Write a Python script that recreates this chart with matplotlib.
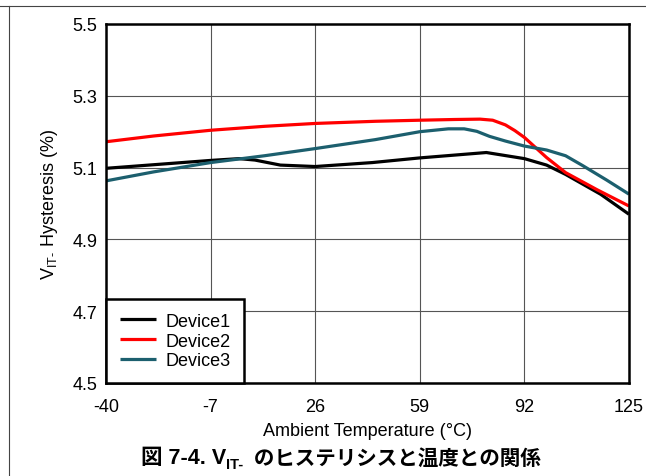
import matplotlib
matplotlib.use("Agg")
import matplotlib.pyplot as plt
from matplotlib.lines import Line2D

plt.rcParams['font.family'] = ['Liberation Sans', 'Noto Sans CJK JP', 'DejaVu Sans']
plt.rcParams['mathtext.fontset'] = 'custom'
plt.rcParams['mathtext.rm'] = 'Liberation Sans'
plt.rcParams['axes.unicode_minus'] = False

# data
temp1 = [-40, -25, -7, 2, 7, 15, 26, 44, 59, 80, 92, 99, 105, 116, 125]
dev1 = [5.098, 5.108, 5.120, 5.125, 5.121, 5.107, 5.103, 5.114, 5.127, 5.142, 5.125, 5.107, 5.081, 5.026, 4.970]

temp2 = [-40, -25, -7, 10, 26, 45, 59, 70, 78, 82, 86, 89, 92, 99, 105, 115, 125]
dev2 = [5.172, 5.188, 5.204, 5.215, 5.223, 5.229, 5.232, 5.234, 5.235, 5.232, 5.219, 5.203, 5.184, 5.128, 5.086, 5.038, 4.993]

temp3 = [-40, -25, -7, 10, 26, 45, 59, 68, 73, 77, 81, 86, 92, 99, 105, 110.5, 118, 125]
dev3 = [5.063, 5.088, 5.114, 5.133, 5.153, 5.178, 5.200, 5.208, 5.208, 5.201, 5.187, 5.174, 5.160, 5.149, 5.133, 5.105, 5.065, 5.026]

xticks = [-40, -7, 26, 59, 92, 125]
yticks = [4.5, 4.7, 4.9, 5.1, 5.3, 5.5]
names = ['Device1', 'Device2', 'Device3']
colors = ['#000000', '#ff0000', '#1c5f6e']

fig = plt.figure(figsize=(6.46, 4.77), dpi=100)

# frame lines of the surrounding table
fig.add_artist(Line2D([0, 1], [1 - 6.5 / 477, 1 - 6.5 / 477], color='#444444', lw=0.8))
fig.add_artist(Line2D([8.5 / 646, 8.5 / 646], [0, 1 - 6.5 / 477], color='#444444', lw=0.8))

ax = fig.add_axes([106 / 646, 1 - 384 / 477, 523 / 646, 359 / 477])

for t, d, c, n in zip([temp1, temp2, temp3], [dev1, dev2, dev3], colors, names):
    ax.plot(t, d, color=c, lw=2.3, label=n, solid_capstyle='butt', solid_joinstyle='round')

ax.set_xlim(-40, 125)
ax.set_ylim(4.5, 5.5)
ax.set_xticks(xticks)
ax.set_xticklabels([str(v) for v in xticks])
ax.set_yticks(yticks)
ax.set_yticklabels([f"{v:.1f}" for v in yticks])
ax.grid(True, color='#555555', lw=0.8)
ax.set_axisbelow(True)
ax.tick_params(labelsize=13, length=0)
ax.tick_params(axis='y', pad=6)
ax.tick_params(axis='x', pad=11)
for s in ax.spines.values():
    s.set_linewidth(1.8)

ax.set_xlabel('Ambient Temperature (°C)', fontsize=13, labelpad=5)
ax.set_ylabel(r'V$_{\text{IT-}}$ Hysteresis (%)', fontsize=13, labelpad=9)

leg = ax.legend(loc='lower left', fontsize=13, frameon=True, fancybox=False,
                borderaxespad=0, handlelength=2.0, handletextpad=0.55,
                labelspacing=0.16, borderpad=0.75)
leg.get_frame().set_edgecolor('black')
leg.get_frame().set_linewidth(1.8)
leg.get_frame().set_alpha(1)

# caption with subscript
t1 = fig.text(141 / 646, 1 - 464 / 477, '図 7-4. V', fontsize=15.5, fontweight='bold',
              va='baseline', ha='left')
t2 = ax.annotate('IT-', xy=(1, 0), xycoords=t1, xytext=(0, -2), textcoords='offset points',
                 fontsize=10.5, fontweight='bold', va='bottom', ha='left',
                 annotation_clip=False)
t3 = ax.annotate(' のヒステリシスと温度との関係', xy=(1, 0), xycoords=(t2, t1),
                 xytext=(3, 0), textcoords='offset points', fontsize=14.8,
                 fontweight='bold', va='bottom', ha='left', annotation_clip=False)

fig.savefig('out.png', dpi=100)
